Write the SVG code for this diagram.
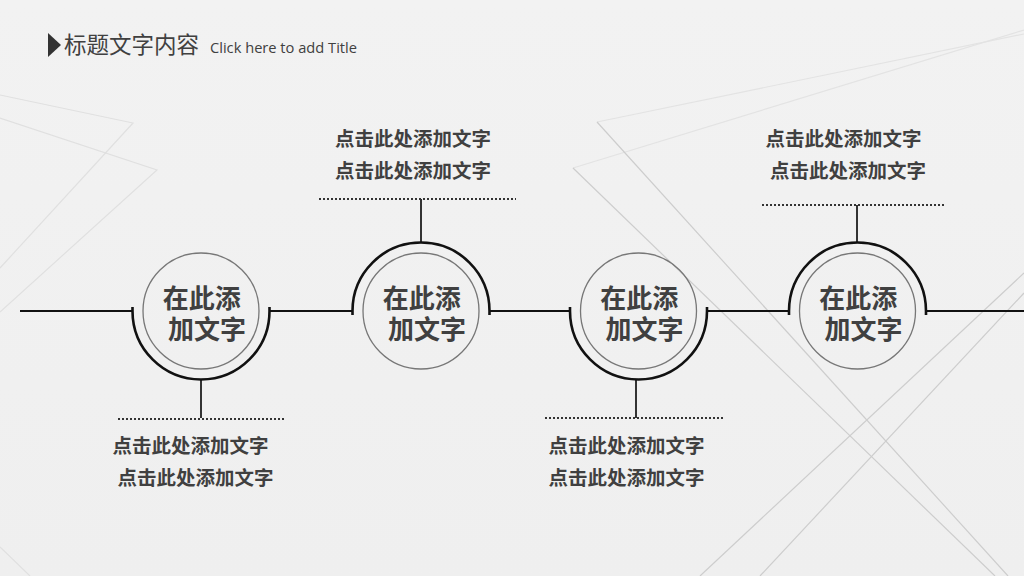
<svg xmlns="http://www.w3.org/2000/svg" width="1024" height="576" viewBox="0 0 1024 576">
<defs>
<linearGradient id="bg" x1="0" y1="0" x2="0" y2="1">
<stop offset="0" stop-color="#f2f2f2"/>
<stop offset="1" stop-color="#efefef"/>
</linearGradient>
<style>
.deco{fill:none;stroke:#cdcdcd;stroke-width:1.2}
.decoL{fill:none;stroke:#e0e0e0;stroke-width:1.2}
.decoT{fill:none;stroke:#e3e3e3;stroke-width:1.2}
.main{fill:none;stroke:#111;stroke-width:2}
.arc{fill:none;stroke:#111;stroke-width:2.6}
.inner{fill:none;stroke:#777;stroke-width:1.3}
.stem{fill:none;stroke:#333;stroke-width:2}
.dots{fill:none;stroke:#333;stroke-width:2;stroke-dasharray:2 2}
.ctext{font-family:"Noto Sans CJK SC","Noto Sans",sans-serif;font-weight:bold;font-size:26px;fill:#404040}
.ltext{font-family:"Noto Sans CJK SC","Noto Sans",sans-serif;font-weight:bold;font-size:19.5px;fill:#404040}
</style>
</defs>
<rect width="1024" height="576" fill="url(#bg)"/>
<g id="background-lines">
<polyline class="decoL" points="0,95 133,123 0,268"/>
<polyline class="decoL" points="0,118 157,170 0,312"/>
<line class="decoL" x1="0" y1="547" x2="30" y2="576"/>
<line class="decoT" x1="1024" y1="34" x2="597" y2="122"/>
<line class="decoT" x1="1024" y1="30" x2="573" y2="168"/>
<line class="deco" x1="597" y1="122" x2="1008" y2="576"/>
<line class="deco" x1="573" y1="168" x2="995" y2="576"/>
<line class="deco" x1="1024" y1="273" x2="700" y2="576"/>
<line class="deco" x1="1024" y1="293" x2="760" y2="576"/>
</g>
<g id="title">
<polygon points="48,33 61,45 48,57" fill="#333"/>
<text x="64" y="53" font-family="Noto Sans CJK SC, Noto Sans, sans-serif" font-size="22.5" fill="#404040">标题文字内容</text>
<text x="210" y="53" font-family="Open Sans, Noto Sans, sans-serif" font-size="14.5" fill="#404040" textLength="147" lengthAdjust="spacingAndGlyphs">Click here to add Title</text>
</g>
<g id="connectors">
<line class="main" x1="20" y1="311" x2="133" y2="311"/>
<line class="main" x1="269" y1="311" x2="353" y2="311"/>
<line class="main" x1="489" y1="311" x2="570" y2="311"/>
<line class="main" x1="707" y1="311" x2="789" y2="311"/>
<line class="main" x1="926" y1="311" x2="1024" y2="311"/>
<line class="stem" x1="201" y1="380" x2="201" y2="418"/>
<line class="stem" x1="421" y1="199" x2="421" y2="242"/>
<line class="stem" x1="636" y1="380" x2="636" y2="418"/>
<line class="stem" x1="857" y1="205" x2="857" y2="242"/>
<line class="dots" x1="118" y1="419" x2="284" y2="419"/>
<line class="dots" x1="319" y1="199" x2="516" y2="199"/>
<line class="dots" x1="545" y1="418" x2="723" y2="418"/>
<line class="dots" x1="762" y1="205" x2="944" y2="205"/>
</g>
<g id="node1">
<path class="arc" d="M132.5 307 L132.5 311 A68.5 68.5 0 0 0 269.5 311 L269.5 307"/>
<circle class="inner" cx="201" cy="311" r="58"/>
<text class="ctext"><tspan x="162.7" y="308">在此添</tspan><tspan x="168" y="339">加文字</tspan></text>
</g>
<g id="node2">
<path class="arc" d="M352.5 315 L352.5 311 A68.5 68.5 0 0 1 489.5 311 L489.5 315"/>
<circle class="inner" cx="421" cy="311" r="58"/>
<text class="ctext"><tspan x="382.7" y="308">在此添</tspan><tspan x="388" y="339">加文字</tspan></text>
</g>
<g id="node3">
<path class="arc" d="M570 307 L570 311 A68.5 68.5 0 0 0 707 311 L707 307"/>
<circle class="inner" cx="638.5" cy="311" r="58"/>
<text class="ctext"><tspan x="600.2" y="308">在此添</tspan><tspan x="605.5" y="339">加文字</tspan></text>
</g>
<g id="node4">
<path class="arc" d="M789 315 L789 311 A68.5 68.5 0 0 1 926 311 L926 315"/>
<circle class="inner" cx="857.5" cy="311" r="58"/>
<text class="ctext"><tspan x="819.2" y="308">在此添</tspan><tspan x="824.5" y="339">加文字</tspan></text>
</g>
<g id="label1">
<text class="ltext" x="112.5" y="453">点击此处添加文字</text>
<text class="ltext" x="117.5" y="485">点击此处添加文字</text>
</g>
<g id="label2">
<text class="ltext" x="335" y="146">点击此处添加文字</text>
<text class="ltext" x="335" y="178">点击此处添加文字</text>
</g>
<g id="label3">
<text class="ltext" x="548.5" y="453">点击此处添加文字</text>
<text class="ltext" x="548.5" y="485">点击此处添加文字</text>
</g>
<g id="label4">
<text class="ltext" x="765.5" y="146">点击此处添加文字</text>
<text class="ltext" x="770" y="178">点击此处添加文字</text>
</g>
</svg>
